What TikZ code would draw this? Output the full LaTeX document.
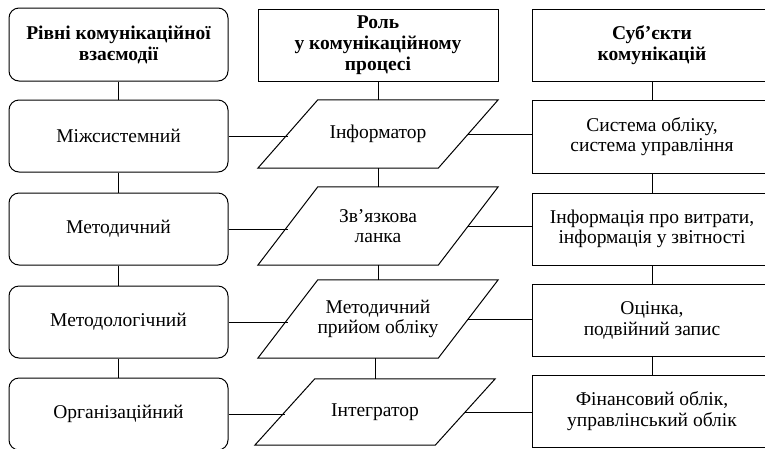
\documentclass[tikz,border=0pt]{standalone}
\usepackage{fontspec}
\setmainfont{Liberation Serif}
\newcommand*{\bw}{219}
\newcommand*{\slant}{30}

\begin{document}
\begin{tikzpicture}[
   x=1pt, y=-1pt,
   every node/.style={font=\fontsize{19.5}{20.5}\selectfont, align=center, inner sep=2},
   lvlbox/.style={rectangle, rounded corners=10, draw=black, line width=1,
                  minimum width=\bw, minimum height=72},
   rolebox/.style={rectangle, minimum width=180, minimum height=68},
   subjbox/.style={rectangle, draw=black, line width=1,
                   minimum width=240, minimum height=72},
   headtxt/.style={font=\fontsize{19.5}{21}\selectfont\bfseries}
  ]

  \useasboundingbox (0, 0) rectangle (765, 448);

  % Headers
  \node (L0) at (118.5, 44.5) [lvlbox, headtxt, minimum height=73] {Рівні комунікаційної\\взаємодії};
  \node (M0) at (378, 45) [subjbox, headtxt] {Роль\\у комунікаційному\\процесі};
  \node (R0) at (652, 45) [subjbox, headtxt] {Суб’єкти\\комунікацій};

  % Levels
  \node (L1) at (118.5, 136) [lvlbox] {Міжсистемний};
  \node (L2) at (118.5, 229) [lvlbox] {Методичний};
  \node (L3) at (118.5, 322) [lvlbox] {Методологічний};
  \node (L4) at (118.5, 414) [lvlbox] {Організаційний};

  % Roles
  \node (P1) at (378, 134) [rolebox] {Інформатор};
  \node (P2) at (378, 226) [rolebox, minimum height=78] {Зв’язкова\\ланка};
  \node (P3) at (378, 319) [rolebox, minimum height=78] {Методичний\\прийом обліку};
  \node (P4) at (375, 412) [rolebox, minimum height=66] {Інтегратор};

  \foreach \P in {P1, P2, P3, P4} {
    \draw[line width=1] ([xshift=-\slant]\P.south west) -- ([xshift=\slant]\P.north west)
      -- ([xshift=\slant]\P.north east) -- ([xshift=-\slant]\P.south east) -- cycle;
  }

  % Subjects
  \node (R1) at (652, 136.5) [subjbox, minimum height=73] {Система обліку,\\система управління};
  \node (R2) at (652, 229) [subjbox] {Інформація про витрати,\\інформація у звітності};
  \node (R3) at (652, 320.5) [subjbox] {Оцінка,\\подвійний запис};
  \node (R4) at (652, 411) [subjbox] {Фінансовий облік,\\управлінський облік};

  \foreach \B/\E in {L0/L1, L1/L2, L2/L3, L3/L4, M0/P1, P1/P2, P2/P3, P3/P4,
                     R0/R1, R1/R2, R2/R3, R3/R4} {
    \draw[line width=1] (\B.south -| \E.north) -- (\E.north);
  }

  \foreach \i in {1, 2, 3, 4} {
    \draw[line width=1] (L\i.east) -- (L\i.east -| P\i.west);
    \draw[line width=1] (P\i.east) -- (P\i.east -| R\i.west);
  }

\end{tikzpicture}
\end{document}
